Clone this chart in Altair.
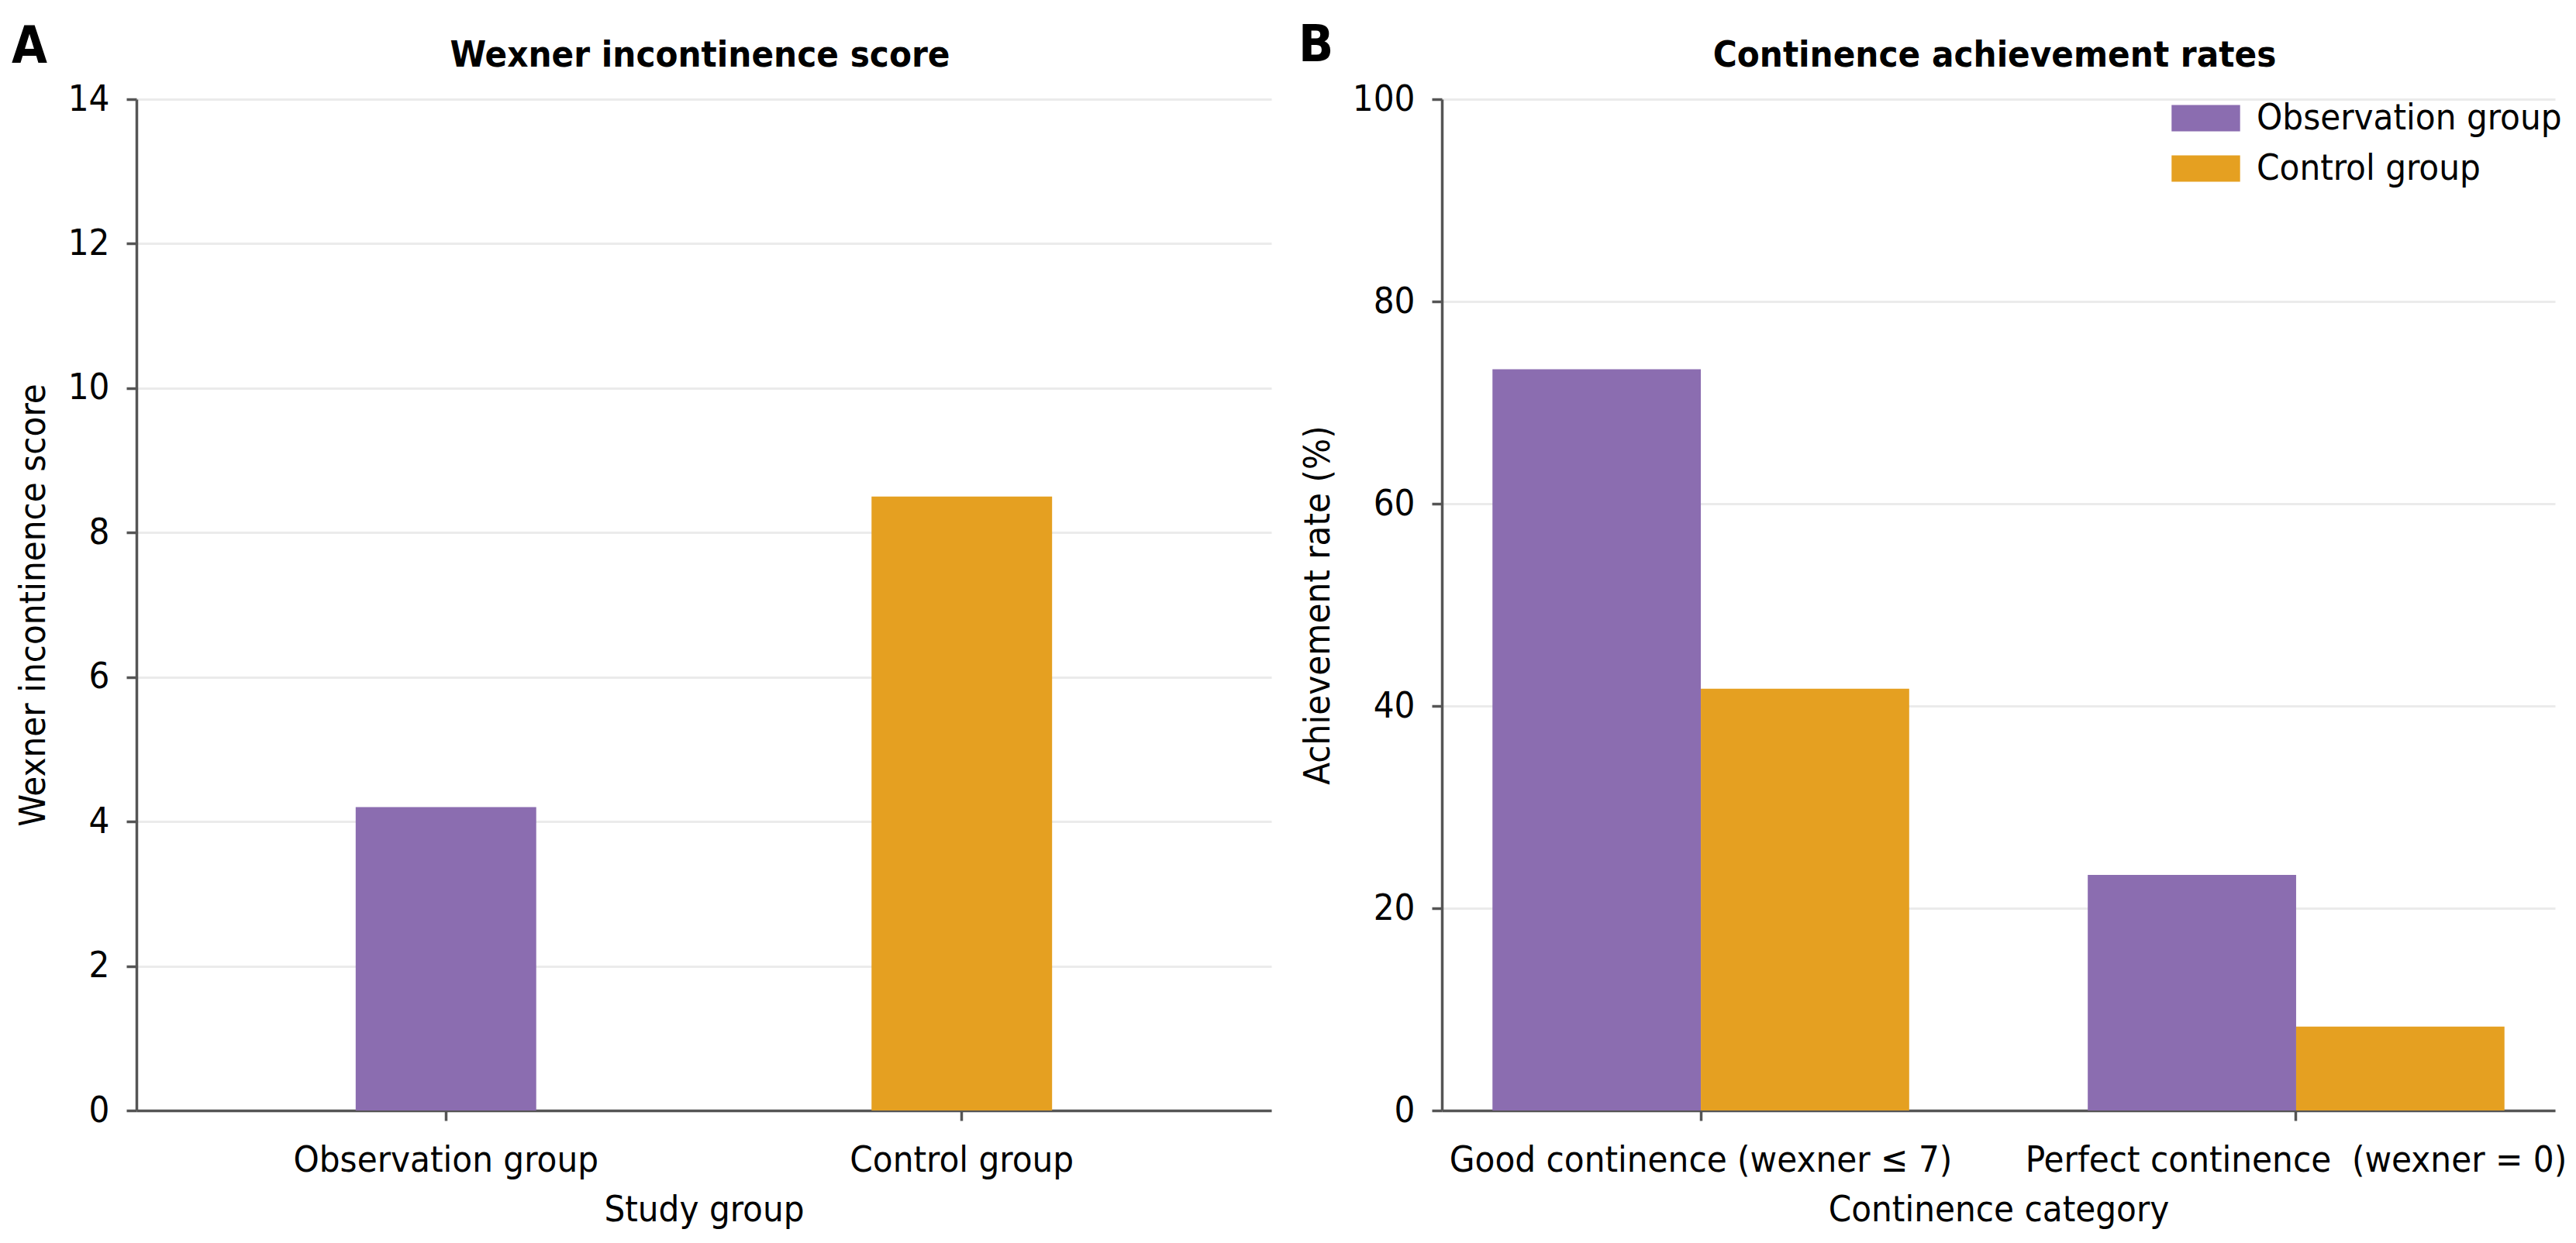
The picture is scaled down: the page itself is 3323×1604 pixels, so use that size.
import altair as alt
import pandas as pd

FONT = "DejaVu Sans Condensed, DejaVu Sans"

# ---- data ----
groups = ["Observation group", "Control group"]
group_colors = ["#8B6DB0", "#E5A021"]

wexner_scores = [4.2, 8.5]

categories = ["Good continence (wexner \u2264 7)", "Perfect continence\u00a0 (wexner = 0)"]
obs_rates = [73.3, 23.3]
ctrl_rates = [41.7, 8.3]

df_a = pd.DataFrame({"group": groups, "score": wexner_scores})
df_b = pd.DataFrame({
    "category": categories + categories,
    "group": [groups[0]] * 2 + [groups[1]] * 2,
    "rate": obs_rates + ctrl_rates,
})

# ---- layout ----
W_A, W_B, H = 1464, 1436, 1305

x_axis_kw = dict(labelAngle=0, grid=False, ticks=True, labelPadding=28, titlePadding=18,
                 labelLimit=0, labelOverlap=False)
y_axis_kw = dict(grid=True, ticks=True, labelPadding=22, titlePadding=20, labelLimit=0)


def text_layer(txt, dx, dy, size, align="left"):
    return alt.Chart(pd.DataFrame({"t": [txt]})).mark_text(
        align=align, baseline="alphabetic", font=FONT, fontSize=size,
        fontWeight="bold", color="#000000"
    ).encode(text="t:N", x=alt.value(dx), y=alt.value(dy))


color_scale = alt.Scale(domain=groups, range=group_colors)

bars_a = alt.Chart(df_a).mark_bar().encode(
    x=alt.X("group:N", sort=groups, title="Study group",
            scale=alt.Scale(paddingInner=0.65, paddingOuter=0.425),
            axis=alt.Axis(**x_axis_kw)),
    y=alt.Y("score:Q", title="Wexner incontinence score",
            scale=alt.Scale(domain=[0, 14], nice=False),
            axis=alt.Axis(values=[0, 2, 4, 6, 8, 10, 12, 14], **y_axis_kw)),
    color=alt.Color("group:N", scale=color_scale, legend=None),
)

chart_a = alt.layer(
    bars_a,
    text_layer("A", -161, -47, 66),
    text_layer("Wexner incontinence score", W_A / 2 - 5, -42, 47, align="center"),
).properties(width=W_A, height=H)

bars_b = alt.Chart(df_b).mark_bar().encode(
    x=alt.X("category:N", sort=categories, title="Continence category",
            scale=alt.Scale(paddingInner=0.30, paddingOuter=0.085),
            axis=alt.Axis(**x_axis_kw)),
    xOffset=alt.XOffset("group:N", sort=groups, scale=alt.Scale(domain=groups)),
    y=alt.Y("rate:Q", title="Achievement rate (%)",
            scale=alt.Scale(domain=[0, 100], nice=False),
            axis=alt.Axis(values=[0, 20, 40, 60, 80, 100], **y_axis_kw)),
    color=alt.Color("group:N", scale=color_scale,
                    legend=alt.Legend(
                        orient="none", legendX=962, legendY=1, title=None,
                        symbolType="M-2.6,-1H2.6V1H-2.6Z", symbolSize=1156,
                        symbolStrokeWidth=0, symbolOpacity=1,
                        labelFont=FONT, labelFontSize=47, labelColor="#000000",
                        labelOffset=42, rowPadding=17, padding=0, labelLimit=0,
                    )),
)

chart_b = alt.layer(
    bars_b,
    text_layer("B", -185, -49, 66),
    text_layer("Continence achievement rates", W_B / 2 - 5, -42, 47, align="center"),
).properties(width=W_B, height=H)

chart = alt.hconcat(chart_a, chart_b, spacing=35).resolve_scale(
    color="independent"
).properties(
    padding={"left": 7, "top": 18, "right": 0, "bottom": 6},
    background="#ffffff",
).configure_view(
    strokeWidth=0
).configure_axis(
    domainColor="#555555", domainWidth=3.5,
    tickColor="#555555", tickWidth=3.5, tickSize=13,
    gridColor="#ebebeb", gridWidth=3,
    labelFont=FONT, labelFontSize=47, labelColor="#000000",
    titleFont=FONT, titleFontSize=47, titleFontWeight="normal", titleColor="#000000",
)

chart.save("out.html", embed_options={"renderer": "svg", "actions": False})
